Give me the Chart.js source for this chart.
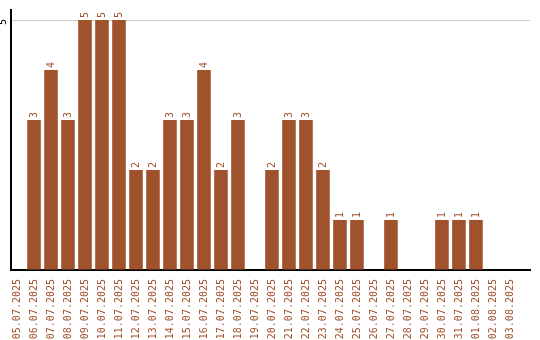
<!DOCTYPE html>
<html><head><meta charset="utf-8">
<script src="https://cdn.jsdelivr.net/npm/chart.js@4"></script>
<style>html,body{margin:0;padding:0;background:#fff}#wrap{width:540px;height:340px}</style>
</head><body><div id="wrap"><canvas id="c" width="540" height="340"></canvas></div>
<script>
const categories = ["05.07.2025","06.07.2025","07.07.2025","08.07.2025","09.07.2025","10.07.2025","11.07.2025","12.07.2025","13.07.2025","14.07.2025","15.07.2025","16.07.2025","17.07.2025","18.07.2025","19.07.2025","20.07.2025","21.07.2025","22.07.2025","23.07.2025","24.07.2025","25.07.2025","26.07.2025","27.07.2025","28.07.2025","29.07.2025","30.07.2025","31.07.2025","01.08.2025","02.08.2025","03.08.2025"];
const values = [0,3,4,3,5,5,5,2,2,3,3,4,2,3,0,2,3,3,2,1,1,0,1,0,0,1,1,1,0,0];
const yTicks = [0,5];

const BROWN = '#A0522D';
const FONT = '10px "DejaVu Sans Mono", monospace';

const overlay = {
  id: 'overlay',
  afterDraw(chart) {
    const ctx = chart.ctx;
    const y = chart.scales.y;
    ctx.save();
    ctx.font = FONT;
    ctx.fillStyle = '#000';
    ctx.textAlign = 'center';
    ctx.textBaseline = 'bottom';
    yTicks.forEach(v => {
      if (v === 0) return;
      const py = y.getPixelForValue(v);
      ctx.save();
      ctx.translate(8, py + 2);
      ctx.rotate(-Math.PI / 2);
      ctx.fillText(String(v), 0, 0);
      ctx.restore();
    });
    ctx.fillStyle = BROWN;
    ctx.textAlign = 'left';
    ctx.textBaseline = 'middle';
    const meta = chart.getDatasetMeta(0);
    meta.data.forEach((bar, i) => {
      const v = values[i];
      if (!v) return;
      ctx.save();
      ctx.translate(bar.x, bar.y - 2);
      ctx.rotate(-Math.PI / 2);
      ctx.fillText(String(v), 0, 0);
      ctx.restore();
    });
    ctx.restore();
  }
};

new Chart(document.getElementById('c'), {
  type: 'bar',
  data: {
    datasets: [{
      data: values.map((v, i) => ({ x: i, y: v })),
      backgroundColor: BROWN,
      borderWidth: 0,
      categoryPercentage: 1,
      barPercentage: 0.8
    }]
  },
  options: {
    responsive: false,
    animation: false,
    devicePixelRatio: 1,
    layout: { padding: { top: 10, right: 10, left: 0, bottom: 0 } },
    plugins: { legend: { display: false }, tooltip: { enabled: false } },
    scales: {
      x: {
        type: 'linear',
        offset: false,
        min: -0.353, max: 30.18,
        afterBuildTicks(s) { s.ticks = categories.map((_, i) => ({ value: i })); },
        grid: { display: false },
        border: { display: true, color: '#000', width: 2 },
        ticks: {
          color: BROWN,
          font: { family: '"DejaVu Sans Mono", monospace', size: 10 },
          minRotation: 90, maxRotation: 90, autoSkip: false, padding: 1,
          callback: v => categories[v]
        },
        afterFit(s) { s.height = 70; }
      },
      y: {
        min: 0, max: 5.2,
        afterBuildTicks(s) { s.ticks = yTicks.map(v => ({ value: v })); },
        ticks: { display: false },
        grid: {
          drawTicks: false,
          color: ctx => (ctx.tick && ctx.tick.value === 5) ? '#cccccc' : 'rgba(0,0,0,0)',
          lineWidth: 1
        },
        border: { display: true, color: '#000', width: 2 },
        afterFit(s) { s.width = 11; }
      }
    }
  },
  plugins: [overlay]
});
</script>
</body></html>
